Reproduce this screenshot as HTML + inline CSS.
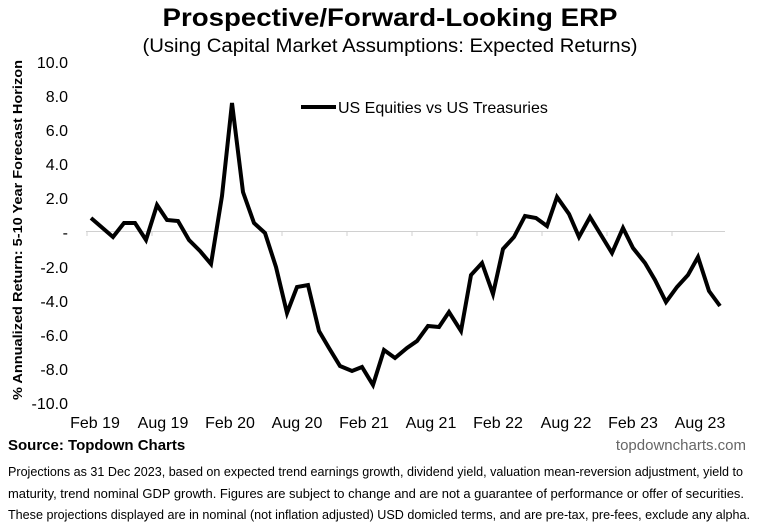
<!DOCTYPE html>
<html><head><meta charset="utf-8"><style>
html,body{margin:0;padding:0;background:#fff;}
svg{display:block;font-family:"Liberation Sans",Arial,sans-serif;}
</style></head><body>
<svg width="758" height="525" viewBox="0 0 758 525" xmlns="http://www.w3.org/2000/svg">
<text x="390" y="26" text-anchor="middle" font-size="25" font-weight="bold" textLength="455" lengthAdjust="spacingAndGlyphs">Prospective/Forward-Looking ERP</text>
<text x="390" y="52" text-anchor="middle" font-size="19" textLength="495" lengthAdjust="spacingAndGlyphs">(Using Capital Market Assumptions: Expected Returns)</text>
<text transform="translate(22,230) rotate(-90)" text-anchor="middle" font-size="13" font-weight="bold" textLength="340" lengthAdjust="spacingAndGlyphs">% Annualized Return: 5-10 Year Forecast Horizon</text>
<g font-size="16" text-anchor="end">
<text x="68" y="68">10.0</text>
<text x="68" y="102">8.0</text>
<text x="68" y="136">6.0</text>
<text x="68" y="170">4.0</text>
<text x="68" y="204">2.0</text>
<text x="68" y="238">-</text>
<text x="68" y="273">-2.0</text>
<text x="68" y="307">-4.0</text>
<text x="68" y="341">-6.0</text>
<text x="68" y="375">-8.0</text>
<text x="68" y="409">-10.0</text>
</g>
<line x1="86" y1="231.5" x2="725" y2="231.5" stroke="#d0d0d0" stroke-width="1"/>
<g stroke="#d0d0d0" stroke-width="1">
<line x1="87" y1="231" x2="87" y2="236"/><line x1="152" y1="231" x2="152" y2="236"/><line x1="217" y1="231" x2="217" y2="236"/><line x1="282" y1="231" x2="282" y2="236"/><line x1="347" y1="231" x2="347" y2="236"/><line x1="412" y1="231" x2="412" y2="236"/><line x1="477" y1="231" x2="477" y2="236"/><line x1="542" y1="231" x2="542" y2="236"/><line x1="607" y1="231" x2="607" y2="236"/><line x1="672" y1="231" x2="672" y2="236"/>
</g>
<g font-size="16" text-anchor="middle">
<text x="95" y="428">Feb 19</text><text x="163" y="428">Aug 19</text><text x="230" y="428">Feb 20</text><text x="297" y="428">Aug 20</text><text x="364" y="428">Feb 21</text><text x="431" y="428">Aug 21</text><text x="498" y="428">Feb 22</text><text x="566" y="428">Aug 22</text><text x="633" y="428">Feb 23</text><text x="700" y="428">Aug 23</text>
</g>
<line x1="301" y1="107" x2="336" y2="107" stroke="#000" stroke-width="4"/>
<text x="338" y="113" font-size="16">US Equities vs US Treasuries</text>
<polyline fill="none" stroke="#000" stroke-width="4" stroke-linejoin="miter" points="91,218 113,237 124,223 135,223 146,240 157,205 167,220 178,221 189,240 200,251 211,264 222,196 232,103 243,192 254,223 265,233 276,267 287,313 297,287 308,285 319,331 329,348 340,366 352,371 362,367 373,385 384,350 395,358 407,348 417,341 428,326 439,327 449,312 461,331 471,275 482,263 493,294 503,249 514,237 525,216 536,218 547,226 557,197 569,214 579,237 590,217 601,235 612,253 623,228 633,248 645,263 655,280 666,302 677,287 688,275 698,257 709,291 720,306"/>
<text x="8" y="450" font-size="15" font-weight="bold">Source: Topdown Charts</text>
<text x="746" y="450" font-size="15" fill="#666" text-anchor="end">topdowncharts.com</text>
<g font-size="13">
<text x="8" y="476" textLength="735" lengthAdjust="spacingAndGlyphs">Projections as 31 Dec 2023, based on expected trend earnings growth, dividend yield, valuation mean-reversion adjustment, yield to</text>
<text x="8" y="498" textLength="736" lengthAdjust="spacingAndGlyphs">maturity, trend nominal GDP growth.  Figures are subject to change and are not a guarantee of performance or offer of securities.</text>
<text x="8" y="519" textLength="742" lengthAdjust="spacingAndGlyphs">These projections displayed are in nominal (not inflation adjusted) USD domicled terms, and are pre-tax, pre-fees, exclude any alpha.</text>
</g>
</svg>
</body></html>
